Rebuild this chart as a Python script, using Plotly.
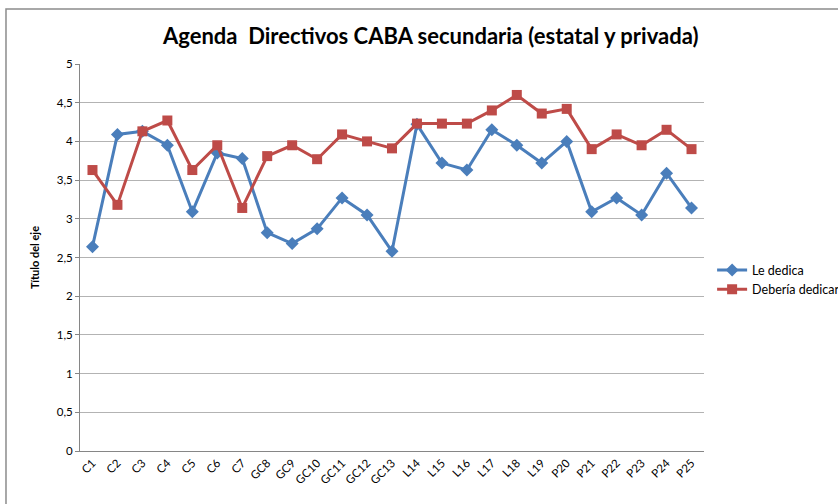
import plotly.graph_objects as go

categories = ["C1", "C2", "C3", "C4", "C5", "C6", "C7", "GC8", "GC9", "GC10", "GC11", "GC12", "GC13",
              "L14", "L15", "L16", "L17", "L18", "L19", "P20", "P21", "P22", "P23", "P24", "P25"]
le_dedica = [2.64, 4.09, 4.13, 3.95, 3.09, 3.85, 3.78, 2.82, 2.68, 2.87, 3.27, 3.05, 2.58,
             4.22, 3.72, 3.63, 4.15, 3.95, 3.72, 4.00, 3.09, 3.27, 3.05, 3.59, 3.14]
deberia_dedicar = [3.63, 3.18, 4.13, 4.27, 3.63, 3.95, 3.14, 3.81, 3.95, 3.77, 4.09, 4.00, 3.91,
                   4.23, 4.23, 4.23, 4.40, 4.60, 4.36, 4.42, 3.90, 4.09, 3.95, 4.15, 3.90]
y_ticks = [0, 0.5, 1, 1.5, 2, 2.5, 3, 3.5, 4, 4.5, 5]

FONT = "Lato"
fig = go.Figure()
fig.add_trace(go.Scatter(x=categories, y=le_dedica, mode="lines+markers", name="Le dedica",
                         line=dict(color="#4A7EBB", width=3),
                         marker=dict(symbol="diamond", size=10, color="#4A7EBB")))
fig.add_trace(go.Scatter(x=categories, y=deberia_dedicar, mode="lines+markers", name="Debería dedicar",
                         line=dict(color="#BE4B48", width=3),
                         marker=dict(symbol="square", size=10, color="#BE4B48")))

fig.update_layout(
    width=838, height=504,
    margin=dict(l=80, r=134, t=64, b=53, autoexpand=False),
    paper_bgcolor="white", plot_bgcolor="white",
    separators=", ",
    font=dict(family=FONT, size=11, color="#000000"),
    title=dict(text="<b>Agenda  Directivos CABA secundaria (estatal y privada)</b>",
               x=0.514, xanchor="center", y=0.928, yanchor="middle",
               font=dict(family=FONT, size=22, color="#000000")),
    legend=dict(x=1.013, xanchor="left", y=0.442, yanchor="middle",
                font=dict(family=FONT, size=12.5), bgcolor="rgba(0,0,0,0)",
                tracegroupgap=4),
    showlegend=True,
)
fig.update_xaxes(type="category", range=[-0.5, len(categories) - 0.5],
                 showgrid=False, showline=True, linecolor="#868686", linewidth=1,
                 tickangle=-45, tickfont=dict(family=FONT, size=11.5), ticks="", zeroline=False,
                 automargin=False)
fig.update_yaxes(range=[0, 5], tickvals=y_ticks, showgrid=True, gridcolor="#B3B3B3", gridwidth=1,
                 showline=True, linecolor="#868686", linewidth=1, zeroline=False,
                 ticks="outside", ticklen=4, tickcolor="#868686",
                 tickfont=dict(family=FONT, size=11.5), automargin=False,
                 title=dict(text="<b>Título del eje</b>", font=dict(family=FONT, size=11), standoff=14))

fig.add_shape(type="rect", xref="paper", yref="paper", x0=-0.1186, x1=1.3, y0=-0.2, y1=1.142,
              line=dict(color="#8C8C8C", width=1.5), fillcolor="rgba(0,0,0,0)", layer="below")

fig.write_html("out.html", config={"displayModeBar": False},
               post_script="document.body.style.margin='0';document.body.style.padding='0';")
